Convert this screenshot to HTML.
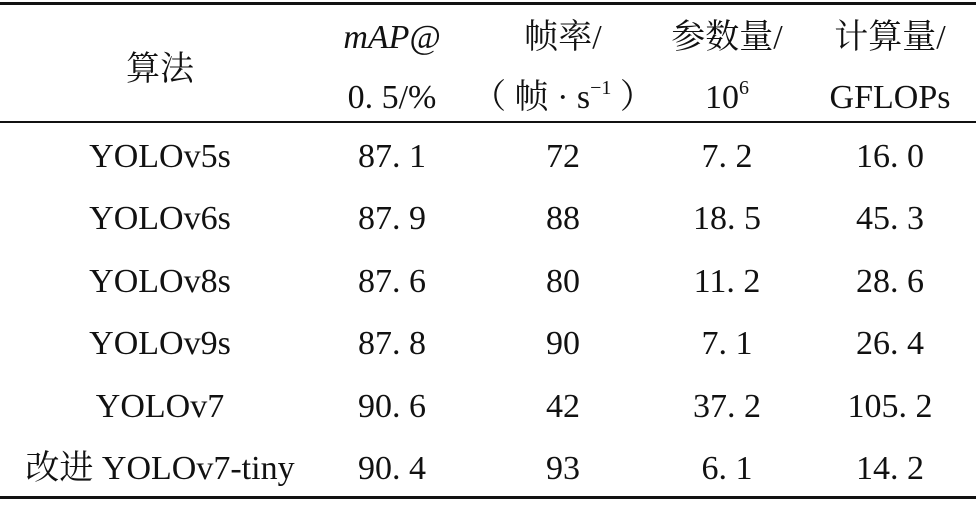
<!DOCTYPE html>
<html><head><meta charset="utf-8"><style>
html,body{margin:0;padding:0;background:#fff;}
svg{display:block}
text{font-family:"Liberation Serif","Noto Serif CJK SC",serif;font-size:34px;fill:#111;text-anchor:middle;white-space:pre}
</style></head><body>
<svg width="976" height="512" viewBox="0 0 976 512" xmlns="http://www.w3.org/2000/svg">
<rect x="0" y="2" width="976" height="3" fill="#111"/>
<rect x="0" y="121" width="976" height="2" fill="#111"/>
<rect x="0" y="496" width="976" height="3" fill="#111"/>
<text x="160" y="80">算法</text>
<text x="392" y="48" font-style="italic">mAP@</text>
<text x="392" y="108">0. 5/%</text>
<text x="563" y="48">帧率/</text>
<text x="563" y="108">（ 帧 · s<tspan font-size="20" dy="-14">−1</tspan><tspan dy="14"> ）</tspan></text>
<text x="727" y="48">参数量/</text>
<text x="727" y="108">10<tspan font-size="20" dy="-14">6</tspan></text>
<text x="890" y="48">计算量/</text>
<text x="890" y="108">GFLOPs</text>

<text x="160" y="167">YOLOv5s</text><text x="392" y="167">87. 1</text><text x="563" y="167">72</text><text x="727" y="167">7. 2</text><text x="890" y="167">16. 0</text>
<text x="160" y="229">YOLOv6s</text><text x="392" y="229">87. 9</text><text x="563" y="229">88</text><text x="727" y="229">18. 5</text><text x="890" y="229">45. 3</text>
<text x="160" y="292">YOLOv8s</text><text x="392" y="292">87. 6</text><text x="563" y="292">80</text><text x="727" y="292">11. 2</text><text x="890" y="292">28. 6</text>
<text x="160" y="354">YOLOv9s</text><text x="392" y="354">87. 8</text><text x="563" y="354">90</text><text x="727" y="354">7. 1</text><text x="890" y="354">26. 4</text>
<text x="160" y="417">YOLOv7</text><text x="392" y="417">90. 6</text><text x="563" y="417">42</text><text x="727" y="417">37. 2</text><text x="890" y="417">105. 2</text>
<text x="160" y="479">改进 YOLOv7-tiny</text><text x="392" y="479">90. 4</text><text x="563" y="479">93</text><text x="727" y="479">6. 1</text><text x="890" y="479">14. 2</text>
</svg>
</body></html>
